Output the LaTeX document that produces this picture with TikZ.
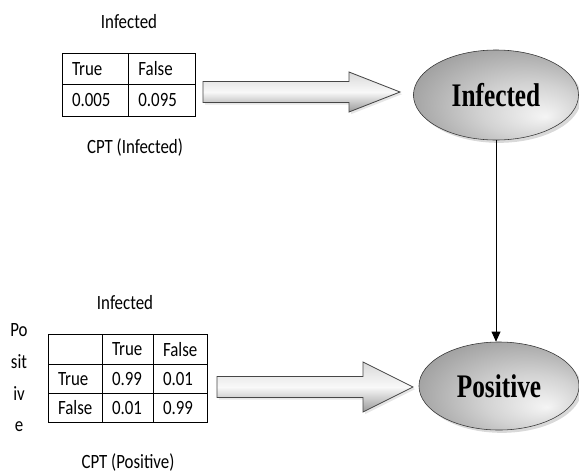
\documentclass[tikz,border=0pt]{standalone}
\usepackage{fontspec}
\setmainfont{Carlito}
\newfontfamily\NodeFont{Liberation Serif}
\usepackage{graphicx}
\usetikzlibrary{arrows.meta,shapes.geometric,shadows,calc}
\pgfdeclareradialshading{bubble}{\pgfpoint{15bp}{-12bp}}{color(0bp)=(gray!8); color(15bp)=(gray!35); color(35bp)=(gray!80); color(50bp)=(gray!100)}
\newcommand{\Tall}[1]{\scalebox{1}[1.2]{#1}}
\newcommand{\NodeText}[1]{\scalebox{1}[1.3]{\NodeFont\bfseries\fontsize{18}{20}\selectfont #1}}
\newcommand{\BlockArrow}[4]{%
  \shadedraw[arrowshade] ($(#1)+(0,-10.5)$) -- ($(#2)+(-#3,-10.5)$) -- ($(#2)+(-#3,-#4)$) -- (#2)
    -- ($(#2)+(-#3,#4)$) -- ($(#2)+(-#3,10.5)$) -- ($(#1)+(0,10.5)$) -- cycle;}

\begin{document}
\begin{tikzpicture}[x=0.025cm,y=-0.025cm,font=\fontsize{12}{14}\selectfont,
    cell/.style={draw,line width=0.6pt,anchor=north west,outer sep=0pt,inner xsep=0.25cm,
      inner ysep=0pt,text width=#1,minimum height=0.79cm,align=left},
    var/.style={ellipse,draw=gray!40!black,shade,shading=bubble,inner sep=0pt,
      drop shadow={shadow xshift=2pt,shadow yshift=-2pt,opacity=0.3}},
    arrowshade/.style={draw=gray!55!black,line width=0.6pt,top color=gray!30,
      bottom color=gray!80,middle color=gray!5,
      drop shadow={shadow xshift=1.5pt,shadow yshift=-1.5pt,opacity=0.2}},
    >={Triangle[length=0.25cm,width=0.22cm]}]
\useasboundingbox (0,0) rectangle (579,475);

% CPT (Infected)
\node (hI) at (129,22) {\Tall{Infected}};
\node[cell=1.16cm] (tI1) at (62,53) {\Tall{True}};
\node[cell=1.17cm] (tI2) at (tI1.north east) {\Tall{False}};
\node[cell=1.16cm] (tI3) at (tI1.south west) {\Tall{0.005}};
\node[cell=1.17cm] (tI4) at (tI3.north east) {\Tall{0.095}};
\node (cI) at (135,147) {\Tall{CPT (Infected)}};

% CPT (Positive)
\node (hP) at (125,303) {\Tall{Infected}};
\node[align=center,font=\fontsize{12}{22.5}\selectfont] (vP) at (19,378)
    {\Tall{Po}\\\Tall{sit}\\\Tall{iv}\\\Tall{e}};
\node[cell=0.85cm,minimum height=0.77cm] (tP1) at (48,334) {};
\node[cell=0.775cm,minimum height=0.77cm] (tP2) at (tP1.north east) {\Tall{True}};
\node[cell=0.85cm,minimum height=0.77cm] (tP3) at (tP2.north east) {\Tall{False}};
\node[cell=0.85cm,minimum height=0.71cm] (tP4) at (tP1.south west) {\Tall{True}};
\node[cell=0.775cm,minimum height=0.71cm] (tP5) at (tP4.north east) {\Tall{0.99}};
\node[cell=0.85cm,minimum height=0.71cm] (tP6) at (tP5.north east) {\Tall{0.01}};
\node[cell=0.85cm,minimum height=0.72cm] (tP7) at (tP4.south west) {\Tall{False}};
\node[cell=0.775cm,minimum height=0.72cm] (tP8) at (tP7.north east) {\Tall{0.01}};
\node[cell=0.85cm,minimum height=0.72cm] (tP9) at (tP8.north east) {\Tall{0.99}};
\node (cP) at (128,462) {\Tall{CPT (Positive)}};

% variables
\node[var,minimum width=4.125cm,minimum height=2.25cm] (Inf) at (496,95) {\NodeText{Infected}};
\node[var,minimum width=4cm,minimum height=2.2cm] (Pos) at (499,386) {\NodeText{Positive}};

\coordinate (aIs) at (203,92);
\coordinate (aIt) at (400,92);
\BlockArrow{aIs}{aIt}{51}{20}
\coordinate (aPs) at (217,387);
\coordinate (aPt) at (413,387);
\BlockArrow{aPs}{aPt}{50}{25}

\draw[->,line width=0.6pt] (Inf.south) -- (Inf.south |- Pos.north);
\end{tikzpicture}
\end{document}
